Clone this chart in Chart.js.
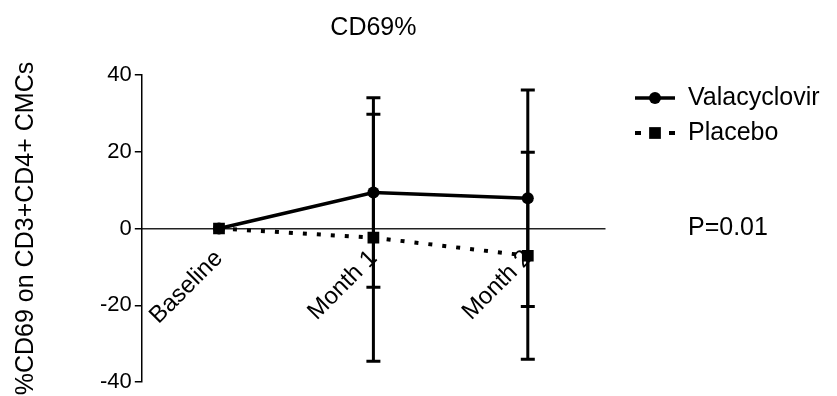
<!DOCTYPE html>
<html>
<head>
<meta charset="utf-8">
<script src="https://cdn.jsdelivr.net/npm/chart.js@4.4.1/dist/chart.umd.min.js"></script>
<style>
  html, body { margin: 0; padding: 0; background: #fff; }
</style>
</head>
<body>
<canvas id="chart-cd69" width="837" height="396"></canvas>
<script>
  /* ==================== DATA ==================== */

  const categories = ['Baseline', 'Month 1', 'Month 2'];

  const valaValues = [0, 9.4, 7.9];
  const valaErr = [0, 24.7, 28.2];

  const placeboValues = [0, -2.4, -7.1];
  const placeboErr = [0, 32.2, 27.0];

  const yTicks = [-40, -20, 0, 20, 40];
  const pValue = 'P=0.01';

  const font = 'Arial, "Liberation Sans", sans-serif';

  /* ==================== PLUGINS ==================== */

  // vertical error bars with caps, drawn from dataset.errors
  let errorBars = {
    id: 'errorBars',
    beforeDatasetsDraw(chart) {
      let { ctx, scales: { y } } = chart;
      chart.data.datasets.forEach((ds, i) => {
        let meta = chart.getDatasetMeta(i);
        ctx.save();
        ctx.strokeStyle = '#000';
        ctx.lineWidth = 3;
        meta.data.forEach((pt, j) => {
          let e = ds.errors[j];
          if (!e) return;
          let top = y.getPixelForValue(ds.data[j] + e);
          let bot = y.getPixelForValue(ds.data[j] - e);
          ctx.beginPath();
          ctx.moveTo(pt.x, top);
          ctx.lineTo(pt.x, bot);
          ctx.moveTo(pt.x - 7, top);
          ctx.lineTo(pt.x + 7, top);
          ctx.moveTo(pt.x - 7, bot);
          ctx.lineTo(pt.x + 7, bot);
          ctx.stroke();
        });
        ctx.restore();
      });
    }
  };

  // legend on the right with line + marker, and the p value
  let sideLegend = {
    id: 'sideLegend',
    afterDraw(chart) {
      let { ctx, chartArea, scales: { y } } = chart;
      let x0 = chartArea.right + 30;
      let x1 = x0 + 40;
      let tx = x1 + 13;

      chart.data.datasets.forEach((ds, i) => {
        let cy = chartArea.top + 23 + i * 35;
        ctx.save();
        ctx.strokeStyle = '#000';
        ctx.fillStyle = '#000';
        ctx.lineWidth = ds.borderWidth;
        ctx.setLineDash(ds.borderDash.length ? [6, 28] : []);
        ctx.beginPath();
        ctx.moveTo(x0, cy);
        ctx.lineTo(x1, cy);
        ctx.stroke();
        ctx.setLineDash([]);
        Chart.helpers.drawPoint(ctx, {
          pointStyle: ds.pointStyle,
          radius: ds.pointRadius,
          rotation: 0,
          borderWidth: 0
        }, (x0 + x1) / 2, cy);

        ctx.font = `25px ${font}`;
        ctx.textBaseline = 'middle';
        ctx.textAlign = 'left';
        ctx.fillText(ds.label, tx, cy);
        ctx.restore();
      });

      ctx.save();
      ctx.fillStyle = '#000';
      ctx.font = `25px ${font}`;
      ctx.textBaseline = 'middle';
      ctx.fillText(pValue, tx, y.getPixelForValue(0));
      ctx.restore();
    }
  };

  /* ==================== CHART ==================== */

  let ctxCd69 = document.getElementById('chart-cd69').getContext('2d');

  let chartCd69 = new Chart(ctxCd69, {
    type: 'line',
    data: {
      labels: categories,
      datasets: [{
        label: 'Valacyclovir',
        data: valaValues,
        errors: valaErr,
        borderColor: '#000',
        backgroundColor: '#000',
        borderWidth: 3.5,
        borderDash: [],
        pointStyle: 'circle',
        pointRadius: 6,
        pointBorderWidth: 0,
        tension: 0
      }, {
        label: 'Placebo',
        data: placeboValues,
        errors: placeboErr,
        borderColor: '#000',
        backgroundColor: '#000',
        borderWidth: 4,
        borderDash: [4, 10],
        pointStyle: 'rect',
        pointRadius: 8.3,
        pointBorderWidth: 0,
        tension: 0
      }]
    },
    options: {
      responsive: false,
      animation: false,
      layout: {
        padding: { left: 9, right: 232, top: 0, bottom: 0 }
      },
      plugins: {
        legend: { display: false },
        tooltip: { enabled: false },
        title: {
          display: true,
          text: 'CD69%',
          fullSize: false,
          color: '#000',
          font: { family: font, size: 25, weight: 'normal' },
          padding: { top: 13, bottom: 32 }
        }
      },
      scales: {
        x: {
          type: 'category',
          offset: true,
          position: { y: 0 },
          grid: { drawOnChartArea: false, tickLength: 4, color: '#000', lineWidth: 1.5 },
          border: { color: '#222', width: 1.5 },
          ticks: {
            color: '#000',
            font: { family: font, size: 24 },
            minRotation: 45,
            maxRotation: 45,
            padding: 12
          }
        },
        y: {
          min: -40,
          max: 40,
          afterBuildTicks: axis => { axis.ticks = yTicks.map(v => ({ value: v })); },
          grid: { drawOnChartArea: false, tickLength: 7, color: '#000', lineWidth: 1.5 },
          border: { color: '#000', width: 1.5 },
          ticks: {
            color: '#000',
            font: { family: font, size: 22, lineHeight: 1 },
            padding: 3
          },
          title: {
            display: true,
            text: '%CD69 on CD3+CD4+ CMCs',
            color: '#000',
            font: { family: font, size: 25 },
            padding: { top: 2, bottom: 56 }
          }
        }
      }
    },
    plugins: [errorBars, sideLegend]
  });
</script>
</body>
</html>
